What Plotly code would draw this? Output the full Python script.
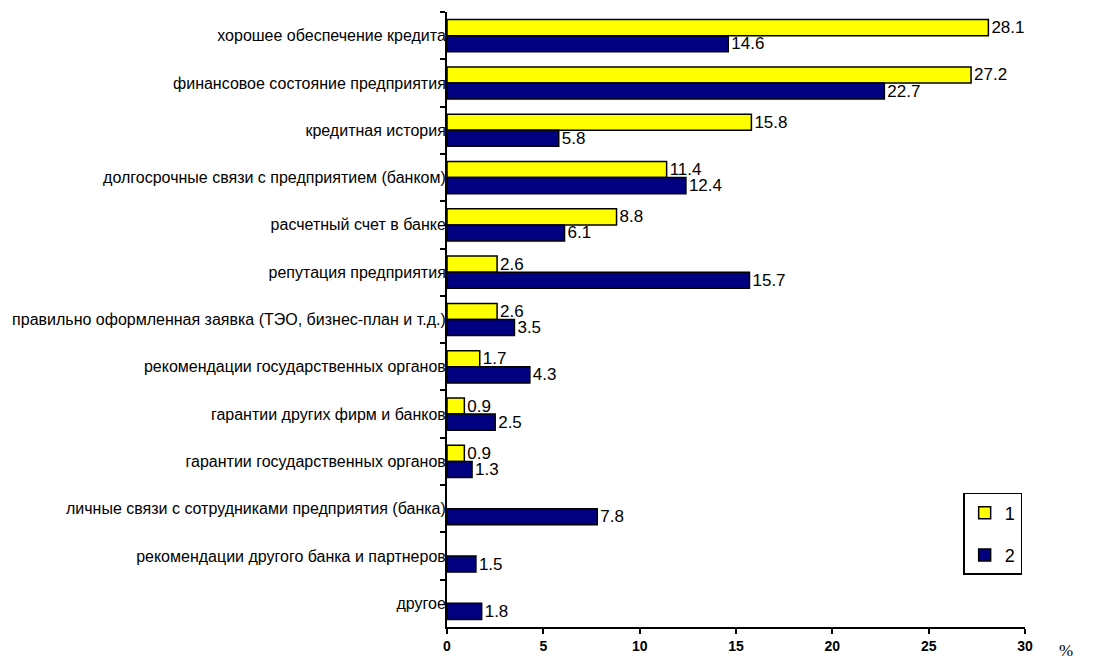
import plotly.graph_objects as go

categories = [
    "хорошее обеспечение кредита",
    "финансовое состояние предприятия",
    "кредитная история",
    "долгосрочные связи с предприятием (банком)",
    "расчетный счет в банке",
    "репутация предприятия",
    "правильно оформленная заявка (ТЭО, бизнес-план и т.д.)",
    "рекомендации государственных органов",
    "гарантии других фирм и банков",
    "гарантии государственных органов",
    "личные связи с сотрудниками предприятия (банка)",
    "рекомендации другого банка и партнеров",
    "другое",
]
series1 = [28.1, 27.2, 15.8, 11.4, 8.8, 2.6, 2.6, 1.7, 0.9, 0.9, None, None, None]
series2 = [14.6, 22.7, 5.8, 12.4, 6.1, 15.7, 3.5, 4.3, 2.5, 1.3, 7.8, 1.5, 1.8]
series_names = ["1", "2"]
x_ticks = [0, 5, 10, 15, 20, 25, 30]

FONT = "Arial, Liberation Sans, sans-serif"


def labels(values):
    return ["" if v is None else f"{v:.1f}" for v in values]


fig = go.Figure()
for name, vals, color in [
    (series_names[0], series1, "#FFFF00"),
    (series_names[1], series2, "#000080"),
]:
    fig.add_trace(go.Bar(
        y=categories,
        x=vals,
        name=name,
        orientation="h",
        marker=dict(color=color, line=dict(color="black", width=1.5)),
        text=labels(vals),
        textposition="outside",
        constraintext="none",
        textfont=dict(family=FONT, size=17, color="black"),
        cliponaxis=False,
        legendgroup=name,
    ))

fig.update_layout(
    width=1100,
    height=670,
    margin=dict(l=445, r=75, t=12, b=43),
    paper_bgcolor="white",
    plot_bgcolor="white",
    barmode="group",
    bargap=0.32,
    bargroupgap=0,
    font=dict(family=FONT, color="black"),
    showlegend=True,
    legend=dict(
        x=0.893, y=0.218, xanchor="left", yanchor="top",
        bordercolor="black", borderwidth=1.5,
        font=dict(family=FONT, size=18),
        itemwidth=30,
        tracegroupgap=16,
        traceorder="grouped",
        bgcolor="white",
    ),
)

fig.update_xaxes(
    range=[0, 30],
    tickvals=x_ticks,
    ticks="outside",
    ticklen=5,
    tickwidth=2,
    tickcolor="black",
    showline=True,
    linecolor="black",
    linewidth=2,
    showgrid=False,
    zeroline=False,
    tickfont=dict(family=FONT, size=14, weight="bold"),
)
fig.update_yaxes(
    autorange="reversed",
    tickson="boundaries",
    ticks="outside",
    ticklen=5,
    tickwidth=2,
    tickcolor="black",
    showline=True,
    linecolor="black",
    linewidth=2,
    showgrid=False,
    tickfont=dict(family=FONT, size=16),
    ticklabelstandoff=-4,
)

fig.add_annotation(
    text="%",
    xref="paper", yref="paper",
    x=1.055, y=-0.02,
    xanchor="left", yanchor="top",
    showarrow=False,
    font=dict(family="Times New Roman, Liberation Serif, serif", size=17),
)

fig.write_html("out.html")
